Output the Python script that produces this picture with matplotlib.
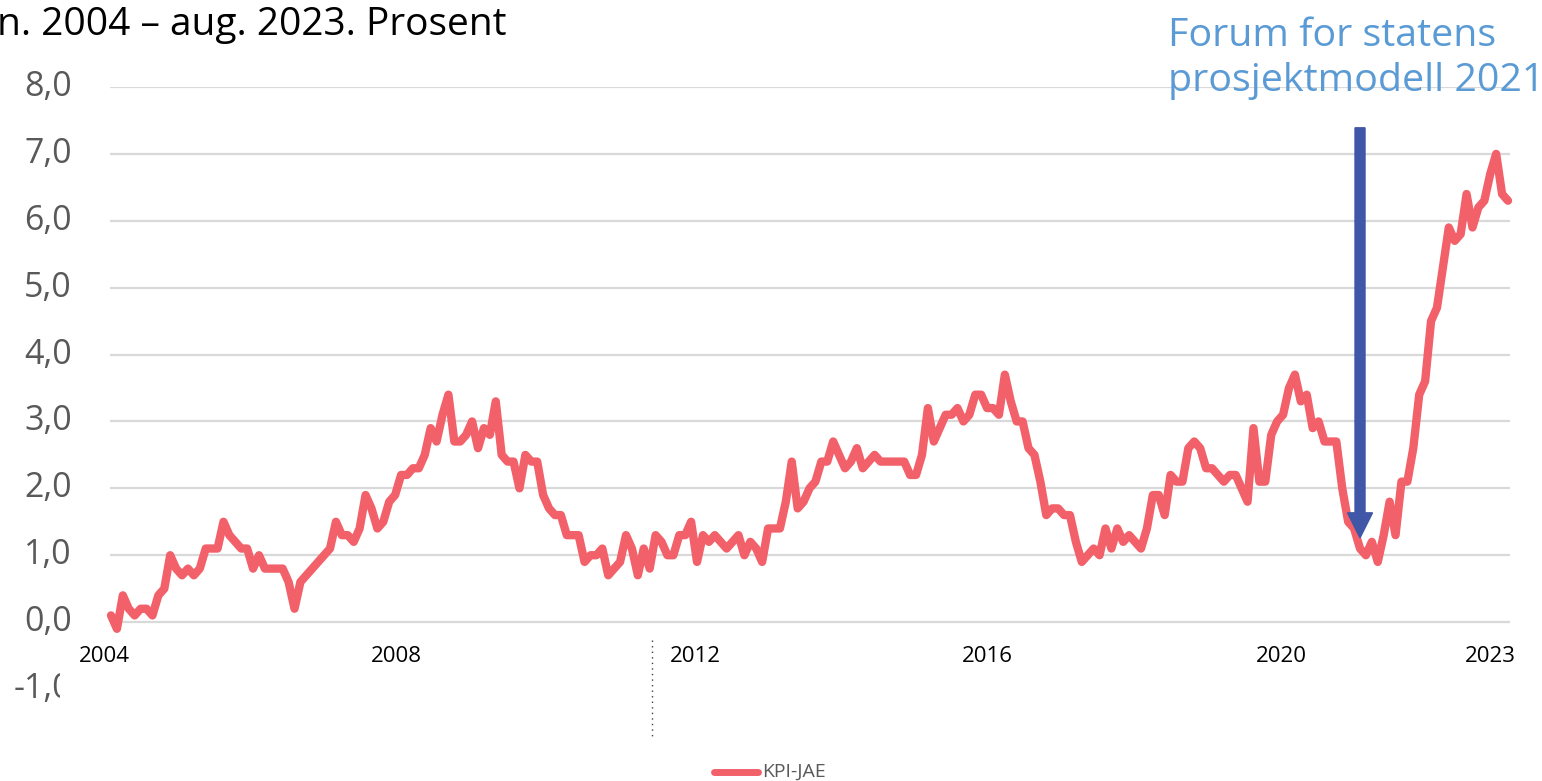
import numpy as np
import matplotlib
matplotlib.use("Agg")
import matplotlib.pyplot as plt
from matplotlib.patches import FancyArrow
from matplotlib.lines import Line2D
from matplotlib.transforms import Bbox, TransformedBbox, blended_transform_factory

plt.rcParams['font.family'] = ['Open Sans', 'DejaVu Sans']

# KPI-JAE, tolvmånedersvekst (prosent), månedlig
kpi_jae = [
    0.1, -0.1, 0.4, 0.2, 0.1, 0.2, 0.2, 0.1, 0.4, 0.5, 1.0, 0.8,
    0.7, 0.8, 0.7, 0.8, 1.1, 1.1, 1.1, 1.5, 1.3, 1.2, 1.1, 1.1,
    0.8, 1.0, 0.8, 0.8, 0.8, 0.8, 0.6, 0.2, 0.6, 0.7, 0.8, 0.9,
    1.0, 1.1, 1.5, 1.3, 1.3, 1.2, 1.4, 1.9, 1.7, 1.4, 1.5, 1.8,
    1.9, 2.2, 2.2, 2.3, 2.3, 2.5, 2.9, 2.7, 3.1, 3.4, 2.7, 2.7,
    2.8, 3.0, 2.6, 2.9, 2.8, 3.3, 2.5, 2.4, 2.4, 2.0, 2.5, 2.4,
    2.4, 1.9, 1.7, 1.6, 1.6, 1.3, 1.3, 1.3, 0.9, 1.0, 1.0, 1.1,
    0.7, 0.8, 0.9, 1.3, 1.1, 0.7, 1.1, 0.8, 1.3, 1.2, 1.0, 1.0,
    1.3, 1.3, 1.5, 0.9, 1.3, 1.2, 1.3, 1.2, 1.1, 1.2, 1.3, 1.0,
    1.2, 1.1, 0.9, 1.4, 1.4, 1.4, 1.8, 2.4, 1.7, 1.8, 2.0, 2.1,
    2.4, 2.4, 2.7, 2.5, 2.3, 2.4, 2.6, 2.3, 2.4, 2.5, 2.4, 2.4,
    2.4, 2.4, 2.4, 2.2, 2.2, 2.5, 3.2, 2.7, 2.9, 3.1, 3.1, 3.2,
    3.0, 3.1, 3.4, 3.4, 3.2, 3.2, 3.1, 3.7, 3.3, 3.0, 3.0, 2.6,
    2.5, 2.1, 1.6, 1.7, 1.7, 1.6, 1.6, 1.2, 0.9, 1.0, 1.1, 1.0,
    1.4, 1.1, 1.4, 1.2, 1.3, 1.2, 1.1, 1.4, 1.9, 1.9, 1.6, 2.2,
    2.1, 2.1, 2.6, 2.7, 2.6, 2.3, 2.3, 2.2, 2.1, 2.2, 2.2, 2.0,
    1.8, 2.9, 2.1, 2.1, 2.8, 3.0, 3.1, 3.5, 3.7, 3.3, 3.4, 2.9,
    3.0, 2.7, 2.7, 2.7, 2.0, 1.5, 1.4, 1.1, 1.0, 1.2, 0.9, 1.3,
    1.8, 1.3, 2.1, 2.1, 2.6, 3.4, 3.6, 4.5, 4.7, 5.3, 5.9, 5.7,
    5.8, 6.4, 5.9, 6.2, 6.3, 6.7, 7.0, 6.4, 6.3,
]
year_labels = ['2004', '2008', '2012', '2016', '2020', '2023']
year_pos = [-1.2, 48.2, 98.7, 148.0, 197.7, 233.0]
y_values = [-1, 0, 1, 2, 3, 4, 5, 6, 7, 8]
forum_idx = 211.0          # Forum for statens prosjektmodell 2021
arrow_top, arrow_tip = 7.39, 1.26

W, H = 1542, 781
fig = plt.figure(figsize=(W / 100, H / 100), dpi=100)
fig.patch.set_facecolor('white')

# plott-område i piksler
x0, x1 = 110, 1510
y_top, y_bot = 87, 689      # 8,0 og -1,0
ax = fig.add_axes([x0 / W, 1 - y_bot / H, (x1 - x0) / W, (y_bot - y_top) / H])
n = len(kpi_jae)
k = (1508 - 111) / (n - 1)
ax.set_xlim((x0 - 111) / k, (n - 1) + (x1 - 1508) / k)
ax.set_ylim(-1, 8)
ax.axis('off')

for v in y_values[1:]:
    ax.axhline(v, color='#D9D9D9', lw=1.6, zorder=1)

x = np.arange(n)
ax.plot(x, kpi_jae, color='#F2606A', lw=6.0, solid_joinstyle='round',
        solid_capstyle='round', zorder=3, clip_on=False)

# y-etiketter
trans = blended_transform_factory(fig.transFigure, ax.transData)
clip = TransformedBbox(Bbox([[0, 0], [60 / W, 1]]), fig.transFigure)
for v in y_values:
    t = ax.text(72 / W, v, f'{v:.1f}'.replace('.', ','), transform=trans,
                ha='right', va='center', fontsize=24.5, color='#595959')
    if v < 0:
        t.set_clip_on(True)
        t.set_clip_box(clip)

# x-etiketter
for p, lab in zip(year_pos, year_labels):
    ax.text(p, -0.52, lab, ha='center', va='center', fontsize=16,
            color='black', clip_on=False)

# pil
ax.add_patch(FancyArrow(forum_idx, arrow_top, 0, arrow_tip - arrow_top,
                        width=10 / k, head_width=25 / k,
                        head_length=25 / 66.9, length_includes_head=True,
                        color='#3F57A6', zorder=4, clip_on=False))

# tekst
fig.text(507 / W, 1 - 35 / H, 'Jan. 2004 – aug. 2023. Prosent', ha='right',
         va='baseline', fontsize=28, color='black')
fig.text(1168 / W, 1 - 46 / H, 'Forum for statens', ha='left',
         va='baseline', fontsize=28.4, color='#5B9BD5')
fig.text(1168 / W, 1 - 91 / H, 'prosjektmodell 2021', ha='left',
         va='baseline', fontsize=28.4, color='#5B9BD5')

# stiplet linje
fig.add_artist(Line2D([652 / W, 652 / W], [1 - 640 / H, 1 - 740 / H],
                      transform=fig.transFigure, color='#404040', lw=1,
                      linestyle=(0, (1, 3))))

# forklaring
fig.add_artist(Line2D([714 / W, 758 / W], [1 - 772 / H, 1 - 772 / H],
                      transform=fig.transFigure, color='#F2606A', lw=5,
                      solid_capstyle='round'))
fig.text(762 / W, 1 - 772 / H, 'KPI-JAE', ha='left', va='center',
         fontsize=14, color='#595959')

fig.savefig('out.png', dpi=100, facecolor='white')
